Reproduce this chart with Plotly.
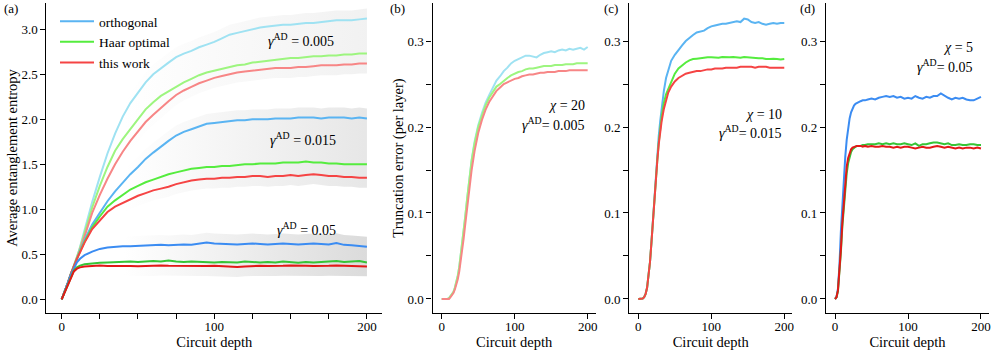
import plotly.graph_objects as go

W, H = 996, 350

# ---------------- data: panel (a) average entanglement entropy ----------------
depth_a = [0, 2, 4, 6, 8, 10, 12, 15] + list(range(20, 201, 5))

ortho_005 = [0, 0.08, 0.18, 0.28, 0.37, 0.46, 0.58, 0.77,
             1.08, 1.36, 1.62, 1.84, 2.03, 2.18, 2.29, 2.41, 2.50, 2.57, 2.63, 2.69, 2.73, 2.76, 2.80,
             2.83, 2.86, 2.90, 2.94, 2.96, 2.98, 3.00, 3.02, 3.03, 3.04, 3.05, 3.05, 3.06, 3.07, 3.07,
             3.08, 3.09, 3.10, 3.10, 3.10, 3.11, 3.12]
haar_005 = [0, 0.08, 0.18, 0.28, 0.37, 0.46, 0.57, 0.74,
            1.02, 1.26, 1.47, 1.65, 1.78, 1.89, 2.00, 2.11, 2.19, 2.26, 2.31, 2.36, 2.41, 2.45, 2.49,
            2.52, 2.54, 2.56, 2.58, 2.60, 2.61, 2.63, 2.64, 2.65, 2.66, 2.67, 2.68, 2.68, 2.69, 2.70,
            2.70, 2.71, 2.71, 2.72, 2.72, 2.73, 2.73]
this_005 = [0, 0.08, 0.18, 0.28, 0.37, 0.45, 0.55, 0.70,
            0.96, 1.16, 1.34, 1.50, 1.64, 1.76, 1.87, 1.97, 2.05, 2.13, 2.20, 2.27, 2.32, 2.36, 2.40,
            2.43, 2.46, 2.48, 2.50, 2.52, 2.53, 2.54, 2.55, 2.56, 2.57, 2.57, 2.57, 2.58, 2.58, 2.59,
            2.60, 2.60, 2.60, 2.61, 2.61, 2.62, 2.62]

ortho_015 = [0, 0.08, 0.18, 0.28, 0.37, 0.46, 0.54, 0.66,
             0.83, 0.96, 1.09, 1.20, 1.30, 1.39, 1.47, 1.56, 1.63, 1.70, 1.76, 1.82, 1.86, 1.89, 1.92,
             1.95, 1.96, 1.97, 1.98, 1.99, 1.99, 2.00, 2.00, 2.00, 2.01, 2.01, 2.01, 2.02, 2.02, 2.02,
             2.01, 2.02, 2.02, 2.02, 2.01, 2.02, 2.01]
haar_015 = [0, 0.08, 0.18, 0.28, 0.37, 0.45, 0.53, 0.64,
            0.80, 0.92, 1.03, 1.10, 1.16, 1.22, 1.26, 1.30, 1.33, 1.36, 1.39, 1.41, 1.43, 1.45, 1.46,
            1.47, 1.47, 1.48, 1.48, 1.49, 1.50, 1.50, 1.51, 1.51, 1.51, 1.52, 1.52, 1.52, 1.53, 1.52,
            1.52, 1.51, 1.51, 1.50, 1.50, 1.50, 1.50]
this_015 = [0, 0.08, 0.18, 0.28, 0.37, 0.45, 0.52, 0.63,
            0.78, 0.88, 0.97, 1.03, 1.07, 1.11, 1.15, 1.18, 1.21, 1.23, 1.25, 1.28, 1.30, 1.32, 1.33,
            1.34, 1.34, 1.35, 1.35, 1.36, 1.36, 1.37, 1.37, 1.36, 1.37, 1.37, 1.38, 1.37, 1.38, 1.39,
            1.38, 1.37, 1.37, 1.36, 1.36, 1.35, 1.35]

ortho_05 = [0, 0.08, 0.18, 0.27, 0.35, 0.41, 0.45, 0.49,
            0.53, 0.56, 0.575, 0.585, 0.59, 0.59, 0.595, 0.60, 0.60, 0.605, 0.60, 0.605, 0.61, 0.605,
            0.615, 0.63, 0.62, 0.615, 0.615, 0.61, 0.615, 0.62, 0.615, 0.61, 0.615, 0.62, 0.615, 0.61,
            0.615, 0.62, 0.615, 0.61, 0.625, 0.605, 0.60, 0.59, 0.585]
haar_05 = [0, 0.08, 0.18, 0.26, 0.32, 0.355, 0.375, 0.39,
           0.40, 0.405, 0.41, 0.415, 0.415, 0.42, 0.415, 0.42, 0.425, 0.42, 0.43, 0.42, 0.415, 0.42,
           0.415, 0.415, 0.41, 0.415, 0.415, 0.41, 0.42, 0.415, 0.41, 0.415, 0.41, 0.42, 0.41, 0.405,
           0.415, 0.41, 0.415, 0.42, 0.425, 0.415, 0.42, 0.425, 0.41]
this_05 = [0, 0.08, 0.17, 0.25, 0.31, 0.34, 0.355, 0.365,
           0.37, 0.375, 0.37, 0.372, 0.375, 0.37, 0.368, 0.372, 0.37, 0.375, 0.372, 0.37, 0.368, 0.372,
           0.37, 0.37, 0.372, 0.365, 0.36, 0.358, 0.365, 0.37, 0.372, 0.37, 0.368, 0.372, 0.375, 0.37,
           0.372, 0.37, 0.368, 0.372, 0.375, 0.372, 0.37, 0.368, 0.365]

# ---------------- data: panels (b)-(d) truncation error per layer ----------------
depth_t = list(range(0, 33, 2)) + [35, 38, 41, 45] + list(range(50, 201, 5))

ortho_b = [0, 0, 0, 0, 0, 0.001, 0.003, 0.005, 0.008, 0.013, 0.019, 0.027, 0.037, 0.050, 0.064, 0.079, 0.094,
           0.118, 0.143, 0.162, 0.183,
           0.202, 0.216, 0.228, 0.237, 0.245, 0.254, 0.259, 0.265, 0.269, 0.274, 0.277, 0.279, 0.281, 0.283,
           0.283, 0.282, 0.281, 0.284, 0.286, 0.287, 0.288, 0.287, 0.289, 0.290, 0.289, 0.291, 0.290, 0.291,
           0.292, 0.290, 0.293]
haar_b = [0, 0, 0, 0, 0, 0.001, 0.003, 0.005, 0.008, 0.013, 0.019, 0.027, 0.037, 0.050, 0.064, 0.079, 0.094,
          0.118, 0.142, 0.161, 0.181,
          0.200, 0.213, 0.225, 0.234, 0.240, 0.247, 0.250, 0.254, 0.257, 0.260, 0.262, 0.264, 0.265, 0.267,
          0.268, 0.268, 0.269, 0.270, 0.271, 0.271, 0.271, 0.272, 0.272, 0.272, 0.273, 0.273, 0.273, 0.274,
          0.274, 0.274, 0.274]
this_b = [0, 0, 0, 0, 0, 0.0, 0.002, 0.004, 0.007, 0.011, 0.016, 0.023, 0.032, 0.043, 0.056, 0.070, 0.085,
          0.108, 0.131, 0.150, 0.172,
          0.193, 0.208, 0.220, 0.229, 0.236, 0.242, 0.246, 0.250, 0.252, 0.254, 0.256, 0.257, 0.259, 0.260,
          0.261, 0.261, 0.262, 0.263, 0.263, 0.264, 0.264, 0.264, 0.265, 0.265, 0.265, 0.266, 0.266, 0.266,
          0.266, 0.266, 0.266]

ortho_c = [0, 0, 0, 0.0005, 0.002, 0.006, 0.013, 0.026, 0.043, 0.066, 0.093, 0.120, 0.146, 0.170, 0.190, 0.207,
           0.222, 0.242, 0.257, 0.266, 0.277,
           0.284, 0.290, 0.295, 0.300, 0.304, 0.307, 0.310, 0.311, 0.312, 0.315, 0.317, 0.318, 0.319, 0.320,
           0.320, 0.321, 0.322, 0.323, 0.322, 0.326, 0.325, 0.322, 0.321, 0.322, 0.320, 0.319, 0.320, 0.321,
           0.320, 0.321, 0.321]
haar_c = [0, 0, 0, 0.0005, 0.002, 0.006, 0.013, 0.026, 0.043, 0.066, 0.092, 0.118, 0.141, 0.161, 0.182, 0.198,
          0.212, 0.228, 0.238, 0.244, 0.253,
          0.262, 0.268, 0.272, 0.275, 0.2775, 0.279, 0.2795, 0.280, 0.281, 0.281, 0.281, 0.281, 0.2805, 0.2815,
          0.281, 0.281, 0.2815, 0.281, 0.2805, 0.2815, 0.281, 0.281, 0.2805, 0.280, 0.280, 0.279, 0.279,
          0.2795, 0.279, 0.2785, 0.279]
this_c = [0, 0, 0, 0.0005, 0.002, 0.006, 0.013, 0.026, 0.043, 0.066, 0.092, 0.118, 0.141, 0.161, 0.180, 0.194,
          0.207, 0.221, 0.232, 0.240, 0.247,
          0.253, 0.257, 0.260, 0.262, 0.263, 0.264, 0.265, 0.265, 0.266, 0.267, 0.267, 0.268, 0.268, 0.268,
          0.269, 0.269, 0.269, 0.269, 0.270, 0.270, 0.270, 0.270, 0.269, 0.270, 0.270, 0.270, 0.269, 0.269,
          0.269, 0.269, 0.269]

ortho_d = [0, 0.002, 0.012, 0.038, 0.078, 0.112, 0.140, 0.165, 0.185, 0.200, 0.210, 0.217, 0.222, 0.225, 0.227,
           0.228, 0.229, 0.230, 0.231, 0.231, 0.232,
           0.233, 0.232, 0.234, 0.235, 0.236, 0.235, 0.236, 0.234, 0.235, 0.233, 0.234, 0.233, 0.236, 0.234,
           0.233, 0.235, 0.234, 0.236, 0.236, 0.239, 0.236, 0.234, 0.232, 0.234, 0.233, 0.234, 0.232, 0.231,
           0.231, 0.233, 0.235]
haar_d = [0, 0.002, 0.009, 0.027, 0.054, 0.084, 0.108, 0.130, 0.146, 0.158, 0.166, 0.171, 0.174, 0.176, 0.177,
          0.178, 0.178, 0.178, 0.179, 0.179, 0.180,
          0.180, 0.180, 0.181, 0.180, 0.181, 0.180, 0.181, 0.180, 0.180, 0.181, 0.180, 0.179, 0.181, 0.178,
          0.180, 0.180, 0.181, 0.182, 0.182, 0.181, 0.180, 0.181, 0.179, 0.179, 0.180, 0.179, 0.179, 0.180,
          0.180, 0.179, 0.179]
this_d = [0, 0.002, 0.010, 0.029, 0.057, 0.088, 0.114, 0.137, 0.154, 0.164, 0.170, 0.174, 0.176, 0.177, 0.178,
          0.178, 0.178, 0.178, 0.177, 0.178, 0.177,
          0.178, 0.177, 0.177, 0.178, 0.177, 0.177, 0.176, 0.177, 0.176, 0.177, 0.177, 0.176, 0.175, 0.176,
          0.177, 0.176, 0.176, 0.177, 0.178, 0.177, 0.176, 0.177, 0.176, 0.175, 0.176, 0.175, 0.176, 0.176,
          0.175, 0.176, 0.175]

series_names = ["orthogonal", "Haar optimal", "this work"]
gamma_labels = ["0.005", "0.015", "0.05"]
chi_labels = ["20", "10", "5"]
x_ticks = [0, 100, 200]

# ---------------- styles ----------------
FONT = "Liberation Serif"
pal_light = ["#9fe2f2", "#9df57f", "#f78686"]   # gamma = 0.005
pal_mid = ["#5ab4f2", "#55ec3e", "#f54444"]     # gamma = 0.015
pal_dark = ["#3b8cf2", "#36c436", "#e31818"]    # gamma = 0.05
band_cols = ["#f1f1f1", "#e6e6e6", "#dadada"]

fig = go.Figure()


def band(xs, curves, col, pad):
    up = [max(v) + pad for v in zip(*curves)]
    lo = [min(v) - pad for v in zip(*curves)]
    fig.add_trace(go.Scatter(
        x=xs + xs[::-1], y=up + lo[::-1], mode="lines", line=dict(width=0),
        fill="toself",
        fillgradient=dict(type="horizontal",
                          colorscale=[[0, "rgba(255,255,255,1)"], [0.2, "rgba(255,255,255,1)"], [1, col]],
                          start=0, stop=205),
        hoverinfo="skip", showlegend=False, xaxis="x", yaxis="y"))


groups_a = [(ortho_005, haar_005, this_005), (ortho_015, haar_015, this_015), (ortho_05, haar_05, this_05)]
pals = [pal_light, pal_mid, pal_dark]

for g, bc in zip(groups_a, band_cols):
    band(depth_a, list(g), bc, 0.11)

for gi, (g, pal) in enumerate(zip(groups_a, pals)):
    for si, ys in enumerate(g):
        fig.add_trace(go.Scatter(
            x=depth_a, y=ys, mode="lines", line=dict(color=pal[si], width=2),
            name=series_names[si], showlegend=(gi == 1), legendgroup=series_names[si],
            xaxis="x", yaxis="y"))

panels_t = [((ortho_b, haar_b, this_b), pal_light, "x2", "y2"),
            ((ortho_c, haar_c, this_c), pal_mid, "x3", "y3"),
            ((ortho_d, haar_d, this_d), pal_dark, "x4", "y4")]
for g, pal, xa, ya in panels_t:
    for si, ys in enumerate(g):
        fig.add_trace(go.Scatter(
            x=depth_t, y=ys, mode="lines", line=dict(color=pal[si], width=2),
            name=series_names[si], showlegend=False, xaxis=xa, yaxis=ya))


def fx(p):
    return p / W


def fy(p):
    return 1 - p / H


ydom = [fy(313), fy(3)]
axis_common = dict(showline=True, linecolor="black", linewidth=1.3, ticks="outside", ticklen=5,
                   tickwidth=1.2, tickcolor="black", showgrid=False, zeroline=False,
                   tickfont=dict(family=FONT, size=13, color="black"), automargin=False)

xdoms = [[46.4, 382.2], [432.6, 595.7], [629.2, 792.3], [825.9, 989.0]]
xranges = [[-10, 210], [-12.5, 211], [-12.5, 211], [-12.5, 211]]
layout = {}
for i in range(4):
    key = "xaxis" if i == 0 else f"xaxis{i + 1}"
    ax = dict(axis_common)
    ax.update(domain=[fx(xdoms[i][0]), fx(xdoms[i][1])], range=xranges[i],
              tickvals=x_ticks, anchor="y" if i == 0 else f"y{i + 1}", ticklabelstandoff=-4,
              title=dict(text="Circuit depth", font=dict(family=FONT, size=14.5, color="black"), standoff=0))
    if i == 0:
        ax["minor"] = dict(dtick=25, tick0=0, ticks="outside", ticklen=5, tickwidth=1.2, tickcolor="black",
                           showgrid=False)
    layout[key] = ax

for i in range(4):
    key = "yaxis" if i == 0 else f"yaxis{i + 1}"
    ay = dict(axis_common)
    ay.update(domain=ydom, anchor="x" if i == 0 else f"x{i + 1}")
    if i == 0:
        ay.update(range=[-0.152, 3.292], tickvals=[0, 0.5, 1.0, 1.5, 2.0, 2.5, 3.0],
                  ticktext=["0.0", "0.5", "1.0", "1.5", "2.0", "2.5", "3.0"],
                  title=dict(text="Average entanglement entropy",
                             font=dict(family=FONT, size=14.5, color="black"), standoff=0))
    else:
        ay.update(range=[-0.0163, 0.3442], tickvals=[0, 0.1, 0.2, 0.3],
                  ticktext=["0.0", "0.1", "0.2", "0.3"],
                  minor=dict(dtick=0.05, tick0=0, ticks="outside", ticklen=5, tickwidth=1.2,
                             tickcolor="black", showgrid=False))
        if i == 1:
            ay["title"] = dict(text="Truncation error (per layer)",
                               font=dict(family=FONT, size=14.5, color="black"), standoff=0)
    layout[key] = ay

ann = []
for lab, xp in zip(["(a)", "(b)", "(c)", "(d)"], [2, 388, 602, 798]):
    ann.append(dict(text=lab, x=fx(xp), y=fy(9), xref="paper", yref="paper", xanchor="left",
                    yanchor="middle", showarrow=False, font=dict(family=FONT, size=13, color="black")))

for lab, (xp, yp) in zip(gamma_labels, [(301, 40), (303, 139), (306, 229)]):
    ann.append(dict(text=f"<i>γ</i><sup>AD</sup> = {lab}", x=fx(xp), y=fy(yp), xref="paper", yref="paper",
                    xanchor="center", yanchor="middle", showarrow=False,
                    font=dict(family=FONT, size=14, color="black")))

for chi, gam, xr, y1, y2 in zip(chi_labels, gamma_labels, [587, 784, 975], [105, 114, 47], [124, 132, 66]):
    ann.append(dict(text=f"<i>χ</i> = {chi}", x=fx(xr), y=fy(y1), xref="paper", yref="paper",
                    xanchor="right", yanchor="middle", showarrow=False,
                    font=dict(family=FONT, size=14, color="black")))
    ann.append(dict(text=f"<i>γ</i><sup>AD</sup>= {gam}", x=fx(xr), y=fy(y2), xref="paper", yref="paper",
                    xanchor="right", yanchor="middle", showarrow=False,
                    font=dict(family=FONT, size=14, color="black")))

fig.update_layout(
    width=W, height=H, margin=dict(l=0, r=0, t=0, b=0),
    paper_bgcolor="white", plot_bgcolor="rgba(0,0,0,0)",
    font=dict(family=FONT, size=13, color="black"),
    showlegend=True,
    legend=dict(x=fx(55), y=fy(6), xanchor="left", yanchor="top", bgcolor="rgba(0,0,0,0)",
                font=dict(family=FONT, size=13.5, color="black"), tracegroupgap=0,
                itemwidth=34),
    annotations=ann,
    **layout,
)

fig.write_html("out.html", config={"displayModeBar": False},
               post_script="document.body.style.margin='0';document.body.style.overflow='hidden';")
